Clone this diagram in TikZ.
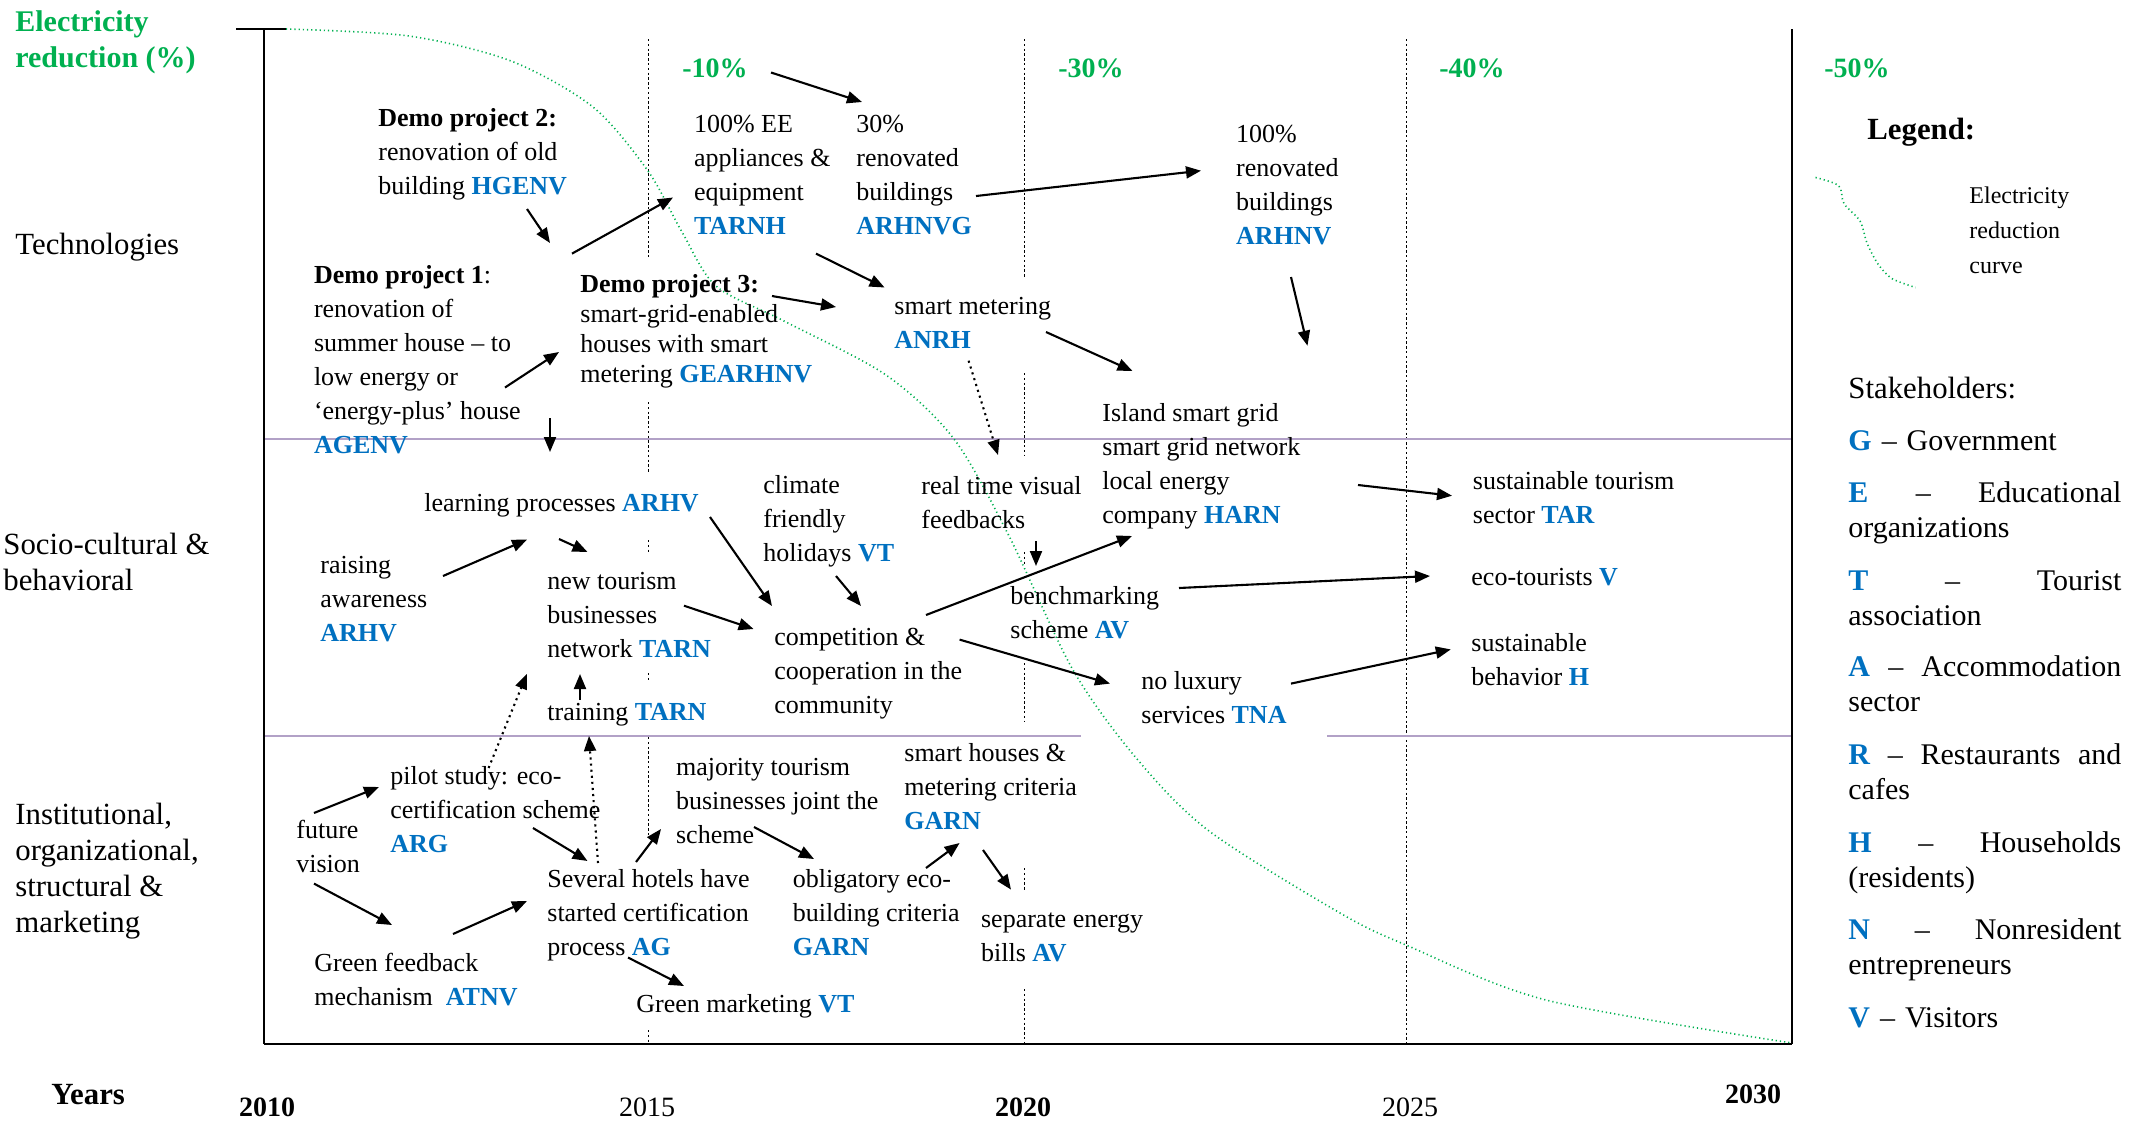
\documentclass[tikz,border=0pt]{standalone}
\usepackage{fontspec}
\setmainfont{Liberation Serif}
\usetikzlibrary{arrows.meta}
\definecolor{elgreen}{RGB}{0,176,80}
\definecolor{stkblue}{RGB}{0,112,192}
\definecolor{zonepurple}{RGB}{178,161,199}
\newcommand\bodyfont{\fontsize{13}{17}\selectfont}
\newcommand\bigfont{\fontsize{15.4}{17.85}\selectfont}
\newcommand\smallfont{\fontsize{12}{17.3}\selectfont}
\newcommand\pctfont{\fontsize{14}{17}\selectfont\bfseries}
\newcommand\stk[1]{\textcolor{stkblue}{\textbf{#1}}}
\tikzset{
  txt/.style={anchor=base west, inner sep=0pt, align=left, font=\bodyfont},
  big/.style={txt, font=\bigfont},
  key/.style={txt, font=\fontsize{15}{17.85}\selectfont, text width=136.5pt},
  pct/.style={anchor=base west, inner sep=0pt, font=\pctfont, text=elgreen},
  yr/.style={anchor=base, inner sep=0pt, font=\fontsize{14}{17}\selectfont},
  arr/.style={-{Triangle[length=7.5pt,width=6pt]}, line width=1.05pt},
  darr/.style={arr, dotted},
  yearline/.style={dash pattern=on 1.2pt off 1.2pt, line width=0.5pt},
  zone/.style={draw=zonepurple, line width=1pt},
  elcurve/.style={elgreen, dash pattern=on 0.6pt off 1.5pt, line width=0.8pt},
}
\begin{document}
\begin{tikzpicture}[x=0.5pt, y=-0.5pt, line join=round]
	\useasboundingbox (0,0) rectangle (2138,1121);
	% year lines
	\foreach \a/\b in {39/258, 402/472, 540/552, 673/682, 737/835, 1030/1044}
		\draw[yearline] (648,\a) -- (648,\b);
	\foreach \a/\b in {39/277, 373/456, 552/565, 663/722, 868/890, 989/1044}
		\draw[yearline] (1024,\a) -- (1024,\b);
	\draw[yearline] (1406,39) -- (1406,1044);
	% zones
	\draw[zone] (264,439) -- (1792,439);
	\draw[zone] (264,736) -- (1081,736);
	\draw[zone] (1327,736) -- (1792,736);
	% reduction curve
	\draw[elcurve] plot[smooth, tension=0.5] coordinates {(286,29) (409,36) (511,61) (593,107) (648,171) (682,232) (716,286) (784,321) (886,375) (954,439) (1009,536) (1073,670) (1137,759) (1209,831) (1340,913) (1406,945) (1546,1000) (1792,1043)};
	\draw[elcurve] plot[smooth, tension=0.5] coordinates {(1815.5,177.5) (1838.7,185.7) (1844,203.6) (1860,221) (1867,243) (1878,264) (1892,278.6) (1915.5,287.5)};
	% axes
	\draw[line width=0.9pt] (236,29) -- (286,29);
	\draw[line width=0.9pt] (264,29) -- (264,1044);
	\draw[line width=0.9pt] (1792,29) -- (1792,1044);
	\draw[line width=1.3pt] (264,1044) -- (1792,1044);

	% axis labels (multi-line nodes sit on their last line)
	\node[big, font=\fontsize{15}{18}\selectfont\bfseries, text=elgreen] (elec) at (15,67) {Electricity\\reduction (\%)};
	\node[big] (tech) at (15,254) {Technologies};
	\node[big] (socio) at (3,590) {Socio-cultural \&\\behavioral};
	\node[big] (inst) at (15,932) {Institutional,\\organizational,\\structural \&\\marketing};
	\node[big, font=\bigfont\bfseries] (years) at (51,1104) {Years};
	\node[yr, font=\fontsize{14}{17}\selectfont\bfseries] (y2010) at (267,1116) {2010};
	\node[yr] (y2015) at (647,1116) {2015};
	\node[yr, font=\fontsize{14}{17}\selectfont\bfseries] (y2020) at (1023,1116) {2020};
	\node[yr] (y2025) at (1410,1116) {2025};
	\node[yr, font=\fontsize{14}{17}\selectfont\bfseries] (y2030) at (1753,1103) {2030};
	\node[pct] (p10) at (682,77) {-10\%};
	\node[pct] (p30) at (1058,77) {-30\%};
	\node[pct] (p40) at (1439,77) {-40\%};
	\node[pct] (p50) at (1824,77) {-50\%};

	% legend
	\node[big, font=\bigfont\bfseries] (legend) at (1867,139) {Legend:};
	\node[txt, font=\smallfont] (legcurve) at (1969,273) {Electricity\\reduction\\curve};
	\node[big] (stake) at (1848,398) {Stakeholders:};
	\node[key] (keyG) at (1848,450) {\stk{G} -- Government};
	\node[key] (keyE) at (1848,502) {\stk{E}\hfill--\hfill Educational\\organizations};
	\node[key] (keyT) at (1848,590) {\stk{T}\hfill--\hfill Tourist\\association};
	\node[key] (keyA) at (1848,676) {\stk{A}\hfill--\hfill Accommodation\\sector};
	\node[key] (keyR) at (1848,764) {\stk{R}\hfill--\hfill Restaurants\hfill and\\cafes};
	\node[key] (keyH) at (1848,852) {\stk{H}\hfill--\hfill Households\\(residents)};
	\node[key] (keyN) at (1848,939) {\stk{N}\hfill--\hfill Nonresident\\entrepreneurs};
	\node[key] (keyV) at (1848,1027) {\stk{V} -- Visitors};

	% technologies
	\node[txt] (dp2) at (378,194) {\textbf{Demo project 2:}\\renovation of old\\building \stk{HGENV}};
	\node[txt] (dp1) at (313.6,453.6) {\textbf{Demo project 1}:\\renovation of\\summer house -- to\\low energy or\\`energy-plus' house\\\stk{AGENV}};
	\node[txt, font=\fontsize{13}{15}\selectfont] (dp3) at (580,382) {\textbf{Demo project 3:}\\smart-grid-enabled\\houses with smart\\metering \stk{GEARHNV}};
	\node[txt] (ee) at (693.6,234) {100\% EE\\appliances \&\\equipment\\\stk{TARNH}};
	\node[txt] (ren30) at (856,234) {30\%\\renovated\\buildings\\\stk{ARHNVG}};
	\node[txt] (ren100) at (1235.7,244.6) {100\%\\renovated\\buildings\\\stk{ARHNV}};
	\node[txt] (smart) at (894,348) {smart metering\\\stk{ANRH}};
	\node[txt] (island) at (1102,523) {Island smart grid\\smart grid network\\local energy\\company \stk{HARN}};

	% socio-cultural
	\node[txt] (learn) at (424,511) {learning processes \stk{ARHV}};
	\node[txt] (climate) at (763,561) {climate\\friendly\\holidays \stk{VT}};
	\node[txt] (rtv) at (921,528) {real time visual\\feedbacks};
	\node[txt] (raise) at (320,641) {raising\\awareness\\\stk{ARHV}};
	\node[txt] (newtour) at (547,657.5) {new tourism\\businesses\\network \stk{TARN}};
	\node[txt] (comp) at (774,713) {competition \&\\cooperation in the\\community};
	\node[txt] (bench) at (1010,638) {benchmarking\\scheme \stk{AV}};
	\node[txt] (sustour) at (1472.5,523) {sustainable tourism\\sector \stk{TAR}};
	\node[txt] (ecot) at (1471,585) {eco-tourists \stk{V}};
	\node[txt] (nolux) at (1141,723.6) {no luxury\\services \stk{TNA}};
	\node[txt] (susbeh) at (1471,685) {sustainable\\behavior \stk{H}};
	\node[txt] (train) at (547,720) {training \stk{TARN}};

	% institutional
	\node[txt] (pilot) at (390,852) {pilot study: eco-\\certification scheme\\\stk{ARG}};
	\node[txt] (future) at (296,872) {future\\vision};
	\node[txt] (majority) at (675.7,843) {majority tourism\\businesses joint the\\scheme};
	\node[txt] (smarth) at (904,829) {smart houses \&\\metering criteria\\\stk{GARN}};
	\node[txt] (several) at (547,955.7) {Several hotels have\\started certification\\process \stk{AG}};
	\node[txt] (oblig) at (792.5,955.7) {obligatory eco-\\building criteria\\\stk{GARN}};
	\node[txt] (separate) at (980.7,961) {separate energy\\bills \stk{AV}};
	\node[txt] (gfb) at (314,1005) {Green feedback\\mechanism \ \stk{ATNV}};
	\node[txt] (gmkt) at (636,1012.6) {Green marketing \stk{VT}};

	% arrow ends
	\coordinate (dp2-o) at (527,209);     \coordinate (dp1-i) at (550,243);
	\coordinate (dp1-o) at (572,253.6);   \coordinate (ee-i) at (673,197.5);
	\coordinate (dp1-r) at (505,387.5);   \coordinate (dp3-i) at (559,352);
	\coordinate (dp1-d) at (550,418);     \coordinate (soc-i) at (550,452);
	\coordinate (p10-o) at (771,72.5);    \coordinate (ren30-i) at (862,102);
	\coordinate (ren30-o) at (976,196);   \coordinate (ren100-i) at (1201,170.7);
	\coordinate (ee-o) at (816,253.6);    \coordinate (smart-i) at (884.6,287.5);
	\coordinate (dp3-o) at (772,296);     \coordinate (smart-l) at (836,307);
	\coordinate (smart-d) at (968.6,360.7); \coordinate (rtv-i) at (998,455);
	\coordinate (smart-o) at (1046,332);  \coordinate (island-i) at (1132.5,371);
	\coordinate (ren100-o) at (1291,277); \coordinate (island-t) at (1307.5,345.7);
	\coordinate (island-o) at (1358,485); \coordinate (sustour-i) at (1452,495.7);
	\coordinate (learn-o) at (710,517);   \coordinate (comp-t) at (772,606);
	\coordinate (raise-o) at (443,576);   \coordinate (learn-i) at (527,539.6);
	\coordinate (learn-d) at (559,539);   \coordinate (newtour-i) at (587.5,552);
	\coordinate (newtour-o) at (684,605.7); \coordinate (comp-i) at (753.6,629);
	\coordinate (climate-o) at (836,576); \coordinate (comp-n) at (861,606);
	\coordinate (rtv-o) at (1036,541);    \coordinate (bench-i) at (1036,566);
	\coordinate (comp-o) at (926,615);    \coordinate (island-b) at (1132,536);
	\coordinate (bench-o) at (1179,588);  \coordinate (ecot-i) at (1430,576);
	\coordinate (comp-r) at (959.6,639.6); \coordinate (nolux-i) at (1110,683.6);
	\coordinate (nolux-o) at (1291,683.6); \coordinate (susbeh-i) at (1450.8,649.4);
	\coordinate (pilot-u) at (488.6,768); \coordinate (newtour-b) at (526.8,674);
	\coordinate (train-o) at (580,700);   \coordinate (newtour-s) at (580,674);
	\coordinate (several-u) at (598,863); \coordinate (train-i) at (589,736);
	\coordinate (future-u) at (314,813);  \coordinate (pilot-i) at (379,787);
	\coordinate (future-d) at (314,883.6); \coordinate (gfb-i) at (392,925);
	\coordinate (pilot-o) at (533,828);   \coordinate (several-i) at (587.5,861);
	\coordinate (several-o) at (636,862); \coordinate (majority-i) at (661,829);
	\coordinate (gfb-o) at (453,934);     \coordinate (several-l) at (527,901);
	\coordinate (several-d) at (628,957.5); \coordinate (gmkt-i) at (684,986);
	\coordinate (majority-o) at (754,827); \coordinate (oblig-i) at (814,859);
	\coordinate (oblig-o) at (926,868);   \coordinate (smarth-i) at (959.6,843);
	\coordinate (smarth-o) at (983,850);  \coordinate (separate-i) at (1011,889.6);

	% arrows
	\foreach \s/\t in {dp2-o/dp1-i, dp1-o/ee-i, dp1-r/dp3-i, dp1-d/soc-i, p10-o/ren30-i,
		ren30-o/ren100-i, ee-o/smart-i, dp3-o/smart-l, smart-o/island-i, ren100-o/island-t,
		island-o/sustour-i, learn-o/comp-t, raise-o/learn-i, learn-d/newtour-i,
		newtour-o/comp-i, climate-o/comp-n, rtv-o/bench-i, comp-o/island-b, bench-o/ecot-i,
		comp-r/nolux-i, nolux-o/susbeh-i, train-o/newtour-s, future-u/pilot-i,
		future-d/gfb-i, pilot-o/several-i, several-o/majority-i, gfb-o/several-l,
		several-d/gmkt-i, majority-o/oblig-i, oblig-o/smarth-i, smarth-o/separate-i}
		\draw[arr] (\s) -- (\t);
	\foreach \s/\t in {smart-d/rtv-i, pilot-u/newtour-b, several-u/train-i}
		\draw[darr] (\s) -- (\t);
\end{tikzpicture}
\end{document}
